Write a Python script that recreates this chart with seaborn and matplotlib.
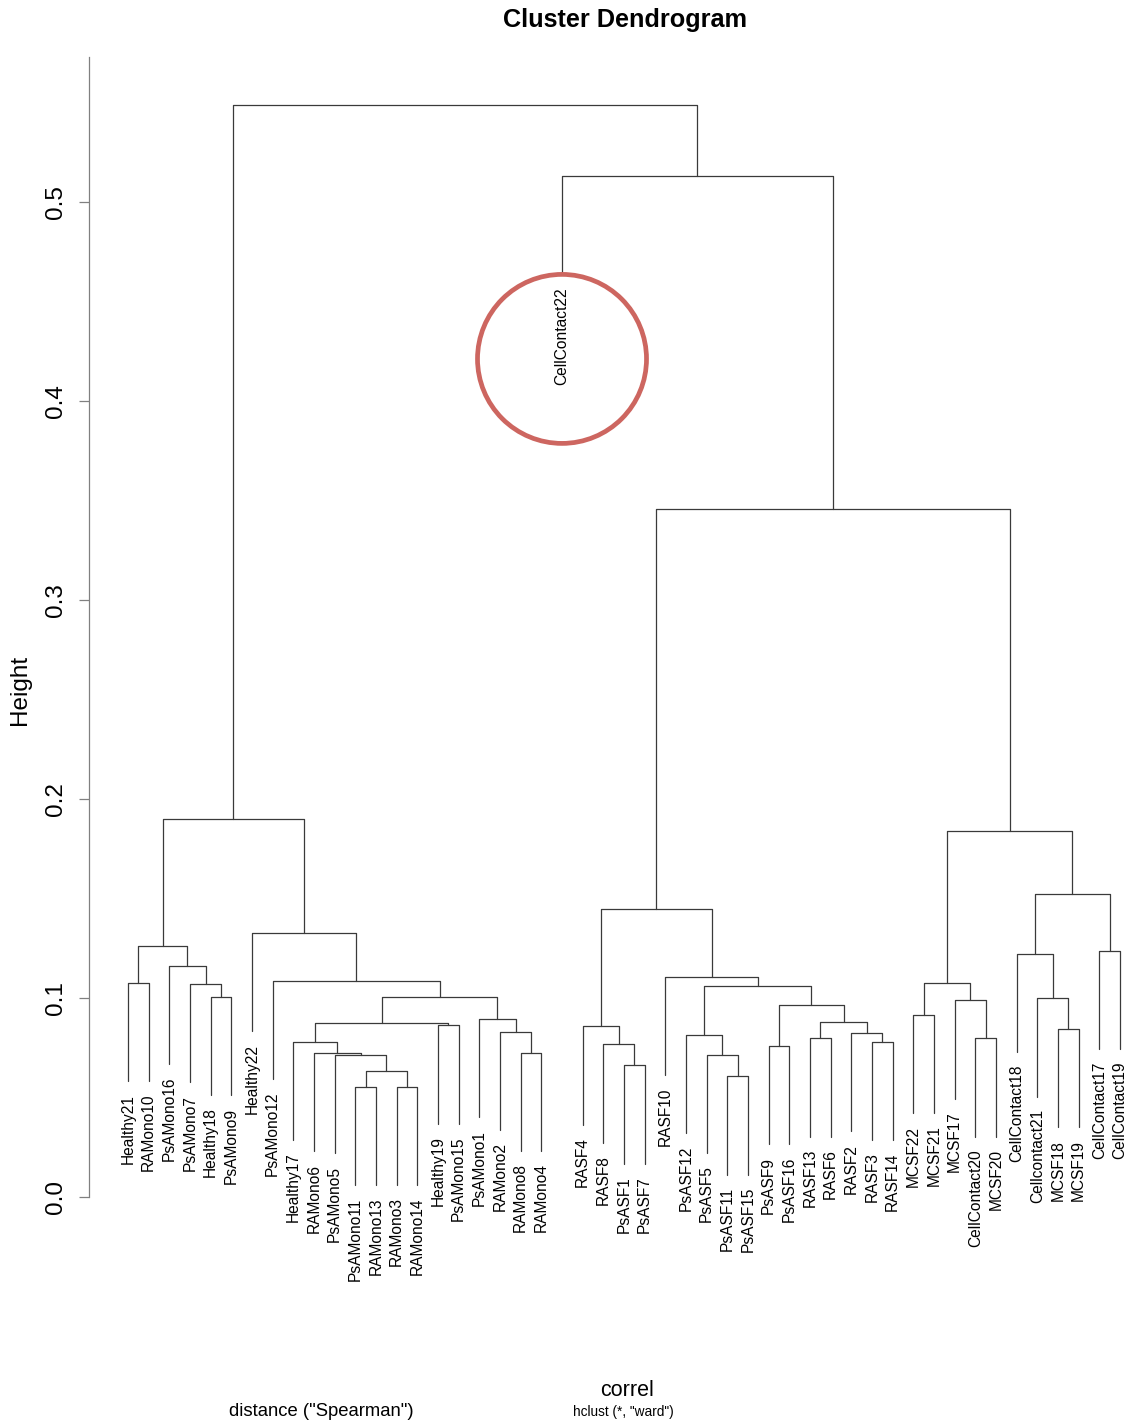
import matplotlib
matplotlib.use("Agg")
import matplotlib.pyplot as plt
from matplotlib.patches import Ellipse
import pandas as pd
import seaborn as sns

# Leaf order along the x axis
leaf_labels = [
    "Healthy21", "RAMono10", "PsAMono16", "PsAMono7", "Healthy18", "PsAMono9",
    "Healthy22", "PsAMono12", "Healthy17", "RAMono6", "PsAMono5", "PsAMono11",
    "RAMono13", "RAMono3", "RAMono14", "Healthy19", "PsAMono15", "PsAMono1",
    "RAMono2", "RAMono8", "RAMono4", "CellContact22", "RASF4", "RASF8",
    "PsASF1", "PsASF7", "RASF10", "PsASF12", "PsASF5", "PsASF11", "PsASF15",
    "PsASF9", "PsASF16", "RASF13", "RASF6", "RASF2", "RASF3", "RASF14",
    "MCSF22", "MCSF21", "MCSF17", "CellContact20", "MCSF20", "CellContact18",
    "Cellcontact21", "MCSF18", "MCSF19", "CellContact17", "CellContact19",
]

# Merge steps: (left child, right child, height).
# A string is a leaf, an int refers to an earlier merge step.
merges = [
    ("Healthy21", "RAMono10", 0.1075),      # 0
    ("Healthy18", "PsAMono9", 0.1006),      # 1
    ("PsAMono7", 1, 0.1070),                # 2
    ("PsAMono16", 2, 0.1160),               # 3
    (0, 3, 0.1260),                         # 4
    ("PsAMono11", "RAMono13", 0.0554),      # 5
    ("RAMono3", "RAMono14", 0.0554),        # 6
    (5, 6, 0.0633),                         # 7
    ("PsAMono5", 7, 0.0714),                # 8
    ("RAMono6", 8, 0.0724),                 # 9
    ("Healthy17", 9, 0.0779),               # 10
    ("Healthy19", "PsAMono15", 0.0862),     # 11
    (10, 11, 0.0874),                       # 12
    ("RAMono8", "RAMono4", 0.0726),         # 13
    ("RAMono2", 13, 0.0831),                # 14
    ("PsAMono1", 14, 0.0893),               # 15
    (12, 15, 0.1007),                       # 16
    ("PsAMono12", 16, 0.1087),              # 17
    ("Healthy22", 17, 0.1327),              # 18
    (4, 18, 0.1900),                        # 19
    ("PsASF1", "PsASF7", 0.0661),           # 20
    ("RASF8", 20, 0.0767),                  # 21
    ("RASF4", 21, 0.0857),                  # 22
    ("PsASF11", "PsASF15", 0.0606),         # 23
    ("PsASF5", 23, 0.0715),                 # 24
    ("PsASF12", 24, 0.0814),                # 25
    ("PsASF9", "PsASF16", 0.0759),          # 26
    ("RASF13", "RASF6", 0.0797),            # 27
    ("RASF3", "RASF14", 0.0780),            # 28
    ("RASF2", 28, 0.0823),                  # 29
    (27, 29, 0.0878),                       # 30
    (26, 30, 0.0965),                       # 31
    (25, 31, 0.1060),                       # 32
    ("RASF10", 32, 0.1107),                 # 33
    (22, 33, 0.1447),                       # 34
    ("MCSF22", "MCSF21", 0.0915),           # 35
    ("CellContact20", "MCSF20", 0.0797),    # 36
    ("MCSF17", 36, 0.0988),                 # 37
    (35, 37, 0.1074),                       # 38
    ("MCSF18", "MCSF19", 0.0843),           # 39
    ("Cellcontact21", 39, 0.0998),          # 40
    ("CellContact18", 40, 0.1220),          # 41
    ("CellContact17", "CellContact19", 0.1236),  # 42
    (41, 42, 0.1523),                       # 43
    (38, 43, 0.1841),                       # 44
    (34, 44, 0.3455),                       # 45
    ("CellContact22", 45, 0.5130),          # 46
    (19, 46, 0.5490),                       # 47
]

y_ticks = [0.0, 0.1, 0.2, 0.3, 0.4, 0.5]
highlight_leaf = "CellContact22"

# ---- dendrogram geometry (plot.hclust style, hang = 0.1) ----
heights = [m[2] for m in merges]
hang = 0.1 * (max(heights) - min(heights))
leaf_pos = {lab: i for i, lab in enumerate(leaf_labels)}
node_x, leaf_end = [], {}
rows = []


def child_xy(child, parent_h):
    if isinstance(child, str):
        y = parent_h - hang
        leaf_end[child] = y
        return leaf_pos[child], y
    return node_x[child], heights[child]


for k, (left, right, h) in enumerate(merges):
    xl, yl = child_xy(left, h)
    xr, yr = child_xy(right, h)
    node_x.append((xl + xr) / 2)
    for x, y in [(xl, yl), (xl, h), (xr, h), (xr, yr)]:
        rows.append({"seg": k, "x": x, "y": y})
segs = pd.DataFrame(rows)

# ---- figure ----
sns.set_theme(style="white")
plt.rcParams["font.family"] = ["Liberation Sans", "DejaVu Sans"]
plt.rcParams["text.color"] = "black"

W, H = 1140, 1425
fig = plt.figure(figsize=(W / 100, H / 100), dpi=100)

xlim = (-1.887, 49.92)
ylim = (-0.0157, 0.5729)
ax_left_px, ax_right_px = 89.0, 1159.7
ax_top_px, ax_bottom_px = 57.0, 1228.2
ax = fig.add_axes([ax_left_px / W, 1 - ax_bottom_px / H,
                   (ax_right_px - ax_left_px) / W,
                   (ax_bottom_px - ax_top_px) / H])

sns.lineplot(data=segs, x="x", y="y", units="seg", estimator=None,
             sort=False, color="#3a3a3a", linewidth=0.9, ax=ax)

ax.set_xlim(*xlim)
ax.set_ylim(*ylim)
sns.despine(ax=ax, bottom=True)
ax.spines["left"].set_bounds(0, ylim[1])
ax.spines["left"].set_color("#808080")
ax.spines["left"].set_linewidth(0.9)
ax.set_xticks([])
ax.set_yticks(y_ticks)
ax.set_yticklabels([f"{t:.1f}" for t in y_ticks])
ax.tick_params(axis="y", left=True, length=7.2, width=0.9, color="#808080",
               pad=9, labelsize=17.5, labelcolor="black", labelrotation=90)
for lab in ax.get_yticklabels():
    lab.set_va("center")
ax.set_xlabel("")
ax.set_ylabel("")

# leaf labels hanging below each leaf
for lab, y in leaf_end.items():
    ax.annotate(lab, (leaf_pos[lab], y), xytext=(0, -9),
                textcoords="offset points", rotation=90, ha="center",
                va="top", fontsize=11.2, color="black",
                annotation_clip=False)

# highlight ring hanging from the isolated leaf
px_per_x = (ax_right_px - ax_left_px) / (xlim[1] - xlim[0])
px_per_y = (ax_bottom_px - ax_top_px) / (ylim[1] - ylim[0])
r_px = 84.5
cy = leaf_end[highlight_leaf] - r_px / px_per_y
ax.add_patch(Ellipse((leaf_pos[highlight_leaf], cy),
                     2 * r_px / px_per_x, 2 * r_px / px_per_y,
                     fill=False, edgecolor="#cd6660", linewidth=3.4,
                     zorder=5, clip_on=False))

# titles and annotations
fig.text(625 / W, 1 - 20 / H, "Cluster Dendrogram", ha="center",
         va="center", fontsize=18.2, fontweight="bold")
fig.text(20 / W, 1 - 690 / H, "Height", rotation=90, ha="center",
         va="center", fontsize=17.5)
fig.text(627 / W, 1 - 1390 / H, "correl", ha="center", va="center",
         fontsize=15.5)
fig.text(321 / W, 1 - 1411 / H, 'distance ("Spearman")', ha="center",
         va="center", fontsize=13.3)
fig.text(623 / W, 1 - 1412 / H, 'hclust (*, "ward")', ha="center",
         va="center", fontsize=9.8)

fig.savefig("out.png", dpi=100)
